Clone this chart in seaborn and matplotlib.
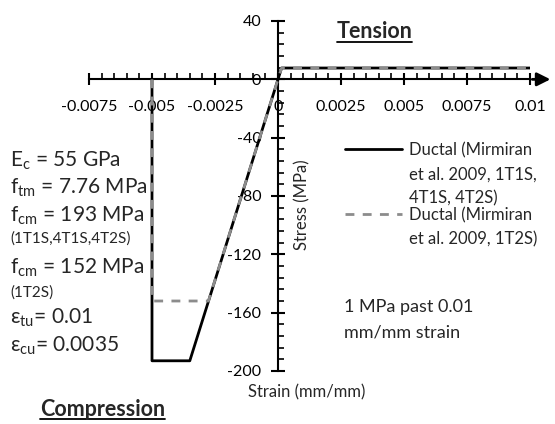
import numpy as np
import pandas as pd
import seaborn as sns
import matplotlib.pyplot as plt
from matplotlib.lines import Line2D
from matplotlib.ticker import MultipleLocator

# stress-strain model for Ductal (Mirmiran et al. 2009)
strain_1t1s = [-0.005, -0.005, -0.0035, 0.0, 0.000141, 0.01]
stress_1t1s = [0, -193, -193, 0, 7.76, 7.76]
strain_1t2s = [-0.005, -0.005, -0.00276, 0.0, 0.000141, 0.01]
stress_1t2s = [0, -152, -152, 0, 7.76, 7.76]

label_1t1s = ['Ductal (Mirmiran', 'et al. 2009, 1T1S,', '4T1S, 4T2S)']
label_1t2s = ['Ductal (Mirmiran', 'et al. 2009, 1T2S)']

x_ticks = [-0.0075, -0.005, -0.0025, 0, 0.0025, 0.005, 0.0075, 0.01]
x_ticklabels = ['-0.0075', '-0.005', '-0.0025', '0', '0.0025', '0.005', '0.0075', '0.01']
y_ticks = [40, 0, -40, -80, -120, -160, -200]

W, H = 555, 424


def fx(px):
    return px / W


def fy(py):
    return 1 - py / H


sns.set_style('white')
plt.rcParams['font.family'] = ['Lato', 'DejaVu Sans']
plt.rcParams['axes.unicode_minus'] = False
plt.rcParams['mathtext.fontset'] = 'custom'
plt.rcParams['mathtext.rm'] = 'Lato'

fig = plt.figure(figsize=(W / 100, H / 100), dpi=100)
ax = fig.add_axes([fx(89), 1 - 371 / H, 441 / W, 350 / H])

df1 = pd.DataFrame({'strain': strain_1t1s, 'stress': stress_1t1s})
df2 = pd.DataFrame({'strain': strain_1t2s, 'stress': stress_1t2s})
sns.lineplot(data=df1, x='strain', y='stress', sort=False, estimator=None, color='black',
             lw=2, ax=ax, legend=False, zorder=3)
sns.lineplot(data=df2, x='strain', y='stress', sort=False, estimator=None, color='#8c8c8c',
             lw=2, ax=ax, legend=False, zorder=4)
ax.lines[1].set_dashes([3.2, 3.0])

ax.set_xlim(-0.0075, 0.01)
ax.set_ylim(-200, 40)

# axes through the origin
for s in ['top', 'right']:
    ax.spines[s].set_visible(False)
ax.spines['left'].set_position(('data', 0))
ax.spines['bottom'].set_position(('data', 0))
for s in ['left', 'bottom']:
    ax.spines[s].set_linewidth(1.5)
    ax.spines[s].set_color('black')

ax.set_xticks(x_ticks)
ax.set_xticklabels(x_ticklabels)
ax.set_yticks(y_ticks)
ax.xaxis.set_minor_locator(MultipleLocator(0.0005))
ax.yaxis.set_minor_locator(MultipleLocator(8))
ax.tick_params(bottom=True, left=True, which='both')
ax.tick_params(axis='x', which='major', direction='inout', length=8, width=1.5,
               labelsize=11.5, pad=11, colors='black')
ax.tick_params(axis='y', which='major', direction='inout', length=10, width=1.5,
               labelsize=11.5, pad=7, colors='black')
ax.tick_params(which='minor', direction='in', length=4, width=1.2, colors='black')
ax.set_xlabel('')
ax.set_ylabel('')

ax.annotate('', xy=(0.01092, 0), xytext=(0.00998, 0),
            arrowprops=dict(arrowstyle='-|>', color='black', lw=2, mutation_scale=20),
            annotation_clip=False)

fig.text(fx(302), fy(205), 'Stress (MPa)', rotation=90, ha='center', va='center', fontsize=12)
fig.text(fx(307), fy(392), 'Strain (mm/mm)', ha='center', va='center', fontsize=12)

# legend: handle sits on first line of each label
blank = Line2D([], [], alpha=0)
leg_kw = dict(loc='upper left', frameon=False, fontsize=12, handlelength=3.4,
              handletextpad=0.45, labelspacing=0.5, borderpad=0, borderaxespad=0)
fig.legend(handles=[ax.lines[0], blank, blank], labels=label_1t1s,
           bbox_to_anchor=(fx(345), fy(142)), **leg_kw)
fig.legend(handles=[ax.lines[1], blank], labels=label_1t2s,
           bbox_to_anchor=(fx(345), fy(207)), **leg_kw)

fig.text(fx(344), fy(307), '1 MPa past 0.01', ha='left', va='center', fontsize=13)
fig.text(fx(344), fy(332), 'mm/mm strain', ha='left', va='center', fontsize=13)

# material properties
props = [
    (161, r'E$_\mathregular{c}$ = 55 GPa', 15),
    (188, r'f$_\mathregular{tm}$ = 7.76 MPa', 15),
    (216, r'f$_\mathregular{cm}$ = 193 MPa', 15),
    (239, '(1T1S,4T1S,4T2S)', 11),
    (268, r'f$_\mathregular{cm}$ = 152 MPa', 15),
    (293, '(1T2S)', 11),
    (318, r'ε$_\mathregular{tu}$= 0.01', 15),
    (346, r'ε$_\mathregular{cu}$= 0.0035', 15),
]
for py, txt, fs in props:
    fig.text(fx(10), fy(py), txt, ha='left', va='center', fontsize=fs)

fig.text(fx(337), fy(31), 'Tension', ha='left', va='center', fontsize=15.5, fontweight='bold')
fig.add_artist(Line2D([fx(337), fx(412)], [fy(41.5), fy(41.5)], color='black', lw=1.3))
fig.text(fx(40), fy(410), 'Compression', ha='left', va='center', fontsize=15.5, fontweight='bold')
fig.add_artist(Line2D([fx(40), fx(165)], [fy(419), fy(419)], color='black', lw=1.3))

fig.savefig('out.png', dpi=100)
